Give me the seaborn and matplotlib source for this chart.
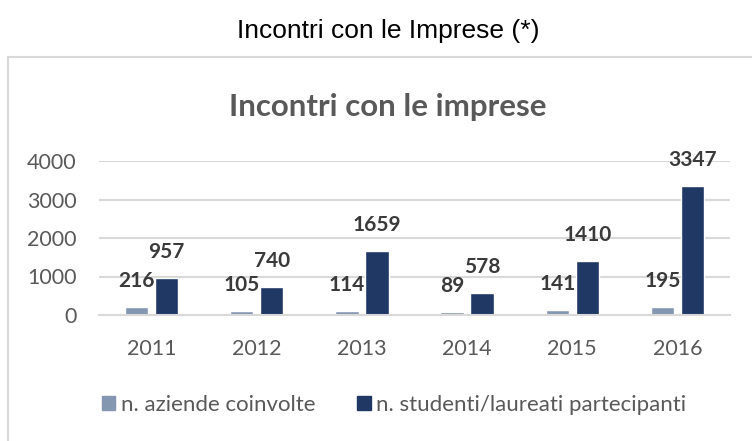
import numpy as np
import matplotlib.pyplot as plt
import matplotlib.lines as mlines
import seaborn as sns
import pandas as pd

years = ["2011", "2012", "2013", "2014", "2015", "2016"]
aziende = [216, 105, 114, 89, 141, 195]
studenti = [957, 740, 1659, 578, 1410, 3347]
series_names = ["n. aziende coinvolte", "n. studenti/laureati partecipanti"]
y_ticks = [0, 1000, 2000, 3000, 4000]

df = pd.DataFrame({
    "anno": years * 2,
    "valore": aziende + studenti,
    "serie": [series_names[0]] * len(years) + [series_names[1]] * len(years),
})

sns.set_theme(style="white")
plt.rcParams["font.family"] = ["Lato", "DejaVu Sans"]

fig = plt.figure(figsize=(7.52, 4.41), dpi=100)
ax = fig.add_axes([99 / 752, 1 - 315 / 441, 631 / 752, 154 / 441])

palette = {series_names[0]: "#8497B0", series_names[1]: "#203864"}
sns.barplot(data=df, x="anno", y="valore", hue="serie", palette=palette,
            width=0.57, gap=0.22, ax=ax, legend=False, saturation=1)

ax.set_ylim(0, 4000)
ax.set_yticks(y_ticks)
ax.yaxis.grid(True, color="#d9d9d9", linewidth=1.5)
ax.set_axisbelow(True)
for s in ["top", "right", "left"]:
    ax.spines[s].set_visible(False)
ax.spines["bottom"].set_color("#d9d9d9")
ax.spines["bottom"].set_linewidth(1.5)
ax.set_xlabel("")
ax.set_ylabel("")
ax.tick_params(axis="y", length=0, pad=16, labelsize=15.5, labelcolor="#595959")
ax.tick_params(axis="x", length=0, pad=17, labelsize=15.5, labelcolor="#595959")

# etichette dati sopra le barre
for container in ax.containers:
    for bar in container:
        h = bar.get_height()
        ax.annotate(f"{int(h)}", (bar.get_x() + bar.get_width() / 2, h),
                    xytext=(0, 14.4), textcoords="offset points",
                    ha="center", va="baseline", fontsize=15, fontweight="bold",
                    color="#3a3a3a", annotation_clip=False)

fig.text(0.515, 1 - 107 / 441, "Incontri con le imprese", ha="center", va="center",
         fontsize=22.5, fontweight="bold", color="#595959")
fig.text(0.516, 1 - 31 / 441, "Incontri con le Imprese (*)", ha="center", va="center",
         fontsize=19, fontweight="medium", color="black",
         family=["Liberation Sans Narrow", "Liberation Sans", "DejaVu Sans"])

# cornice del riquadro
fig.add_artist(mlines.Line2D([8 / 752, 1], [1 - 57 / 441, 1 - 57 / 441], color="#d9d9d9", lw=1.5))
fig.add_artist(mlines.Line2D([8 / 752, 8 / 752], [0, 1 - 57 / 441], color="#d9d9d9", lw=1.5))

handles = [plt.Rectangle((0, 0), 1, 1, color=palette[n]) for n in series_names]
fig.legend(handles, series_names, loc="center", bbox_to_anchor=(0.524, 1 - 405 / 441),
           ncol=2, frameon=False, fontsize=16, labelcolor="#595959",
           handlelength=0.6, handleheight=0.6, handletextpad=0.25, columnspacing=1.9)

fig.savefig("out.png", dpi=100)
